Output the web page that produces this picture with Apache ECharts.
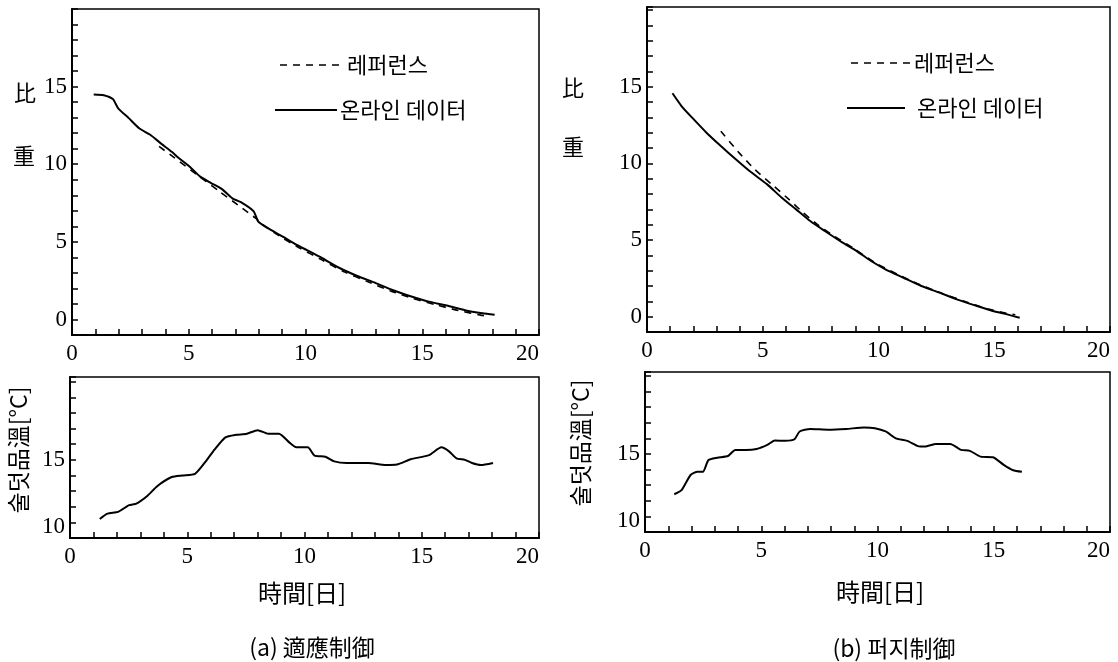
<!DOCTYPE html>
<html>
<head>
<meta charset="utf-8">
<script src="https://cdn.jsdelivr.net/npm/echarts@6/dist/echarts.min.js"></script>
<style>
html,body{margin:0;padding:0;background:#fff;}
#c{width:1118px;height:662px;}
</style>
</head>
<body>
<div id="c"></div>
<script>
// ---- data ----
var xTickLabels = [0, 5, 10, 15, 20];
var topYTickLabels = [0, 5, 10, 15];
var bottomYTickLabels = [10, 15];

// (a) adaptive control - specific gravity
var aOnline = [[0.93,14.5],[1.36,14.45],[1.75,14.2],[1.98,13.6],[2.43,12.97],[2.89,12.3],[3.35,11.9],[3.79,11.36],[4.27,10.8],[4.57,10.4],[5.03,9.86],[5.49,9.2],[5.94,8.8],[6.42,8.4],[6.87,7.8],[7.30,7.5],[7.78,6.97],[7.98,6.3],[8.37,5.9],[9.01,5.35],[9.63,4.8],[10.08,4.45],[10.70,3.96],[11.48,3.3],[12.22,2.8],[12.99,2.36],[13.72,1.9],[14.50,1.5],[15.28,1.15],[16.05,0.9],[16.83,0.6],[17.58,0.4],[18.10,0.3]];
var aReference = [[3.73,11.15],[4.38,10.42],[5.35,9.33],[6.32,8.24],[7.30,7.16],[7.85,6.54],[8.27,6.0],[9.05,5.22],[9.73,4.62],[10.70,3.84],[11.68,3.05],[12.65,2.45],[13.62,1.85],[14.60,1.35],[15.57,0.95],[16.54,0.58],[17.51,0.28],[17.90,0.2]];
// (b) fuzzy control - specific gravity
var bOnline = [[1.10,14.57],[1.49,13.74],[1.95,12.98],[2.57,12.0],[3.19,11.13],[3.81,10.3],[4.43,9.5],[5.19,8.63],[5.82,7.76],[6.44,7.0],[7.05,6.24],[7.68,5.59],[8.45,4.83],[9.06,4.28],[9.68,3.63],[10.30,3.09],[11.08,2.54],[11.85,2.0],[12.63,1.57],[13.38,1.13],[14.16,0.74],[14.93,0.37],[15.56,0.15],[16.10,-0.07]];
var bReference = [[3.19,12.1],[3.97,10.7],[4.66,9.6],[5.49,8.5],[6.13,7.65],[6.75,6.78],[7.37,6.0],[7.92,5.42],[8.90,4.48],[9.87,3.5],[10.84,2.75],[11.82,2.07],[12.79,1.5],[13.77,0.97],[14.74,0.5],[15.52,0.22],[15.91,0.12]];
// mash temperature
var aTemp = [[1.27,11.22],[1.60,11.56],[2.05,11.67],[2.52,12.1],[2.83,12.2],[3.28,12.67],[3.73,13.33],[4.34,13.9],[4.80,14.0],[5.33,14.1],[5.79,14.9],[6.17,15.67],[6.63,16.44],[7.09,16.6],[7.54,16.67],[8.0,16.9],[8.45,16.67],[8.91,16.67],[9.36,16.1],[9.65,15.8],[10.14,15.8],[10.43,15.27],[10.89,15.2],[11.27,14.9],[11.80,14.8],[12.72,14.8],[13.46,14.67],[13.94,14.7],[14.53,15.04],[15.31,15.3],[15.84,15.8],[16.15,15.56],[16.48,15.1],[16.84,15.0],[17.14,14.8],[17.52,14.67],[18.04,14.8]];
var bTemp = [[1.26,12.42],[1.57,12.68],[1.96,13.65],[2.26,13.86],[2.49,13.86],[2.73,14.61],[3.11,14.76],[3.57,14.87],[3.88,15.26],[4.33,15.26],[4.80,15.32],[5.26,15.58],[5.58,15.86],[6.03,15.84],[6.43,15.94],[6.65,16.44],[7.11,16.6],[7.88,16.55],[8.66,16.6],[9.42,16.7],[9.89,16.65],[10.35,16.44],[10.79,16.0],[11.28,15.84],[11.74,15.5],[12.04,15.47],[12.51,15.64],[13.13,15.64],[13.59,15.26],[13.97,15.2],[14.43,14.83],[14.97,14.79],[15.43,14.3],[15.81,13.97],[16.21,13.86]];

var legendRef = '레퍼런스';
var legendOnline = '온라인 데이터';

// ---- chart ----
var SERIF = '"Liberation Serif","DejaVu Serif",serif';
var CJK = '"Noto Sans CJK KR","Noto Sans CJK JP",sans-serif';

function xAx(gi, max){
  return {
    type:'value', gridIndex:gi, min:0, max:max, interval:1,
    axisLine:{show:true, onZero:false, lineStyle:{color:'#000', width:2}},
    axisTick:{show:true, inside:true, length:6, lineStyle:{color:'#000', width:1.5}},
    axisLabel:{margin:7, color:'#000', fontFamily:SERIF, fontSize:23, alignMaxLabel:'right',
      formatter:function(v){ return xTickLabels.indexOf(v)>=0 ? String(v) : ''; }},
    splitLine:{show:false}
  };
}
function yAx(gi, min, max, labels){
  return {
    type:'value', gridIndex:gi, min:min, max:max, interval:1,
    axisLine:{show:true, onZero:false, lineStyle:{color:'#000', width:2}},
    axisTick:{show:true, inside:true, length:6, lineStyle:{color:'#000', width:1.5}},
    axisLabel:{margin:5, color:'#000', fontFamily:SERIF, fontSize:23,
      verticalAlignMinLabel:'bottom',
      formatter:function(v){ return labels.indexOf(v)>=0 ? String(v) : ''; }},
    splitLine:{show:false}
  };
}
function line(data, xi, dashed){
  return {
    type:'line', xAxisIndex:xi, yAxisIndex:xi, data:data, showSymbol:false, symbol:'none',
    smooth:0.2, animation:false, silent:true,
    lineStyle:{color:'#000', width: dashed?1.6:2, type: dashed?[7,6]:'solid'}
  };
}
function txt(x,y,s,size,font,align,rot){
  return {type:'text', x:x, y:y, rotation:rot||0, silent:true,
    style:{text:s, fill:'#000', font: size+'px '+font, textAlign:align||'center', textVerticalAlign:'middle'}};
}
function seg(x1,x2,y,dashed){
  return {type:'line', silent:true, shape:{x1:x1,y1:y,x2:x2,y2:y},
    style:{stroke:'#000', lineWidth: dashed?1.6:2, lineDash: dashed?[7,6]:null}};
}

var chart = echarts.init(document.getElementById('c'), null, {renderer:'canvas'});
chart.setOption({
  animation:false,
  backgroundColor:'#fff',
  grid:[
    {left:72, top:9, width:467, height:326, show:true, borderColor:'#000', borderWidth:1.5},
    {left:647, top:7, width:463, height:325, show:true, borderColor:'#000', borderWidth:1.5},
    {left:70, top:377, width:469, height:161, show:true, borderColor:'#000', borderWidth:1.5},
    {left:645, top:372, width:465, height:160, show:true, borderColor:'#000', borderWidth:1.5}
  ],
  xAxis:[xAx(0,20), xAx(1,20), xAx(2,20), xAx(3,20)],
  yAxis:[yAx(0,-1,20,topYTickLabels), yAx(1,-1,20.2,topYTickLabels), yAx(2,10,20.3,bottomYTickLabels), yAx(3,10,20.25,bottomYTickLabels)],
  series:[
    line(aReference,0,true), line(aOnline,0,false),
    line(bReference,1,true), line(bOnline,1,false),
    line(aTemp,2,false), line(bTemp,3,false)
  ],
  graphic:[
    // legends
    seg(280,340,65,true), txt(347,65,legendRef,22,CJK,'left'),
    seg(275,337,110,false), txt(340,110,legendOnline,22,CJK,'left'),
    seg(851,912,63,true), txt(914,63,legendRef,22,CJK,'left'),
    seg(847,905,108,false), txt(917,108,legendOnline,22,CJK,'left'),
    // y-axis names top
    txt(25,93,'比',22,CJK), txt(24,156,'重',22,CJK),
    txt(573,88,'比',22,CJK), txt(573,147,'重',22,CJK),
    // y-axis names bottom (rotated)
    txt(18,450,'술덧品溫[°C]',23,CJK,'center',Math.PI/2),
    txt(580,443,'술덧品溫[°C]',23,CJK,'center',Math.PI/2),
    // x-axis names
    txt(302,593,'時間[日]',24,CJK), txt(880,592,'時間[日]',24,CJK),
    // captions
    txt(312,647,'(a) 適應制御',23,CJK), txt(894,648,'(b) 퍼지制御',23,CJK)
  ]
});
</script>
</body>
</html>
